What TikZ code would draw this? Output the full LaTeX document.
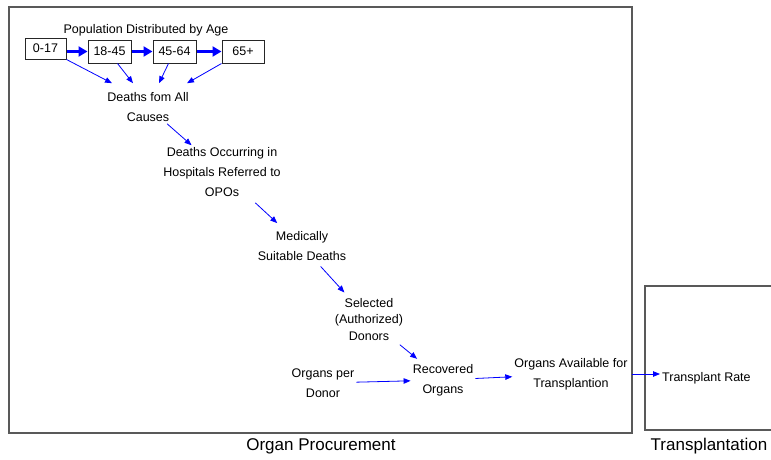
\documentclass[tikz,border=0pt]{standalone}
\usepackage{fontspec}
\setmainfont{Liberation Sans}
\usetikzlibrary{arrows.meta,calc}
\begin{document}
\begin{tikzpicture}[x=1pt,y=-1pt,
  frame/.style={draw=black!65,line width=1.2pt},
  agebox/.style={draw=black!85,line width=1pt,inner sep=0pt,font=\fontsize{12.5}{15}\selectfont},
  lbl/.style={align=center,inner sep=2pt,font=\fontsize{12.5}{20}\selectfont},
  arr/.style={draw=blue,line width=0.8pt,-{Triangle[length=7pt,width=5.5pt]}},
  thickarr/.style={draw=blue,line width=3.5pt,-{Triangle[length=9pt,width=10pt]}},
  grouptitle/.style={inner sep=0pt,font=\fontsize{17}{20}\selectfont}]
\useasboundingbox (0,0) rectangle (771,459);
\clip (0,0) rectangle (771,459);
% group frames
\draw[frame] (9,7) rectangle (632,433);
\draw[frame] (645,286) rectangle (790,430);
\node[grouptitle] (proc) at (321,446) {Organ Procurement};
\node[grouptitle] (trans) at (709,446) {Transplantation};
% population by age
\node[lbl] (pop) at (146,30) {Population Distributed by Age};
\node[agebox,minimum width=41pt,minimum height=21pt] (a0) at (45.5,48.5) {0-17};
\node[agebox,minimum width=43pt,minimum height=23pt] (a1) at (109.5,51.5) {18-45};
\node[agebox,minimum width=43pt,minimum height=23pt] (a2) at (174.5,51.5) {45-64};
\node[agebox,minimum width=42pt,minimum height=23pt] (a3) at (243,51.5) {65+};
\draw[thickarr] (a0.east |- a1) -- (a1.west);
\draw[thickarr] (a1.east) -- (a2.west);
\draw[thickarr] (a2.east) -- (a3.west);
% chain
\node[lbl] (deaths) at (148,107) {Deaths fom All\\Causes};
\node[lbl] (occur) at (222,172) {Deaths Occurring in\\Hospitals Referred to\\OPOs};
\node[lbl] (medic) at (302,246) {Medically\\Suitable Deaths};
\node[lbl,font=\fontsize{12.5}{16.5}\selectfont] (select) at (369,319.5) {Selected\\(Authorized)\\Donors};
\node[lbl] (recov) at (443,380) {Recovered\\Organs};
\node[lbl] (perdonor) at (323,383) {Organs per\\Donor};
\node[lbl] (avail) at (571,374) {Organs Available for\\Transplantion};
\node[lbl,anchor=west] (trate) at (660,378) {Transplant Rate};
% connectors
\draw[arr] (a0.south east) -- ([xshift=-36pt,yshift=7pt]deaths.north);
\draw[arr] ([xshift=8pt]a1.south) -- ([xshift=-15pt,yshift=7pt]deaths.north);
\draw[arr] ([xshift=-6pt]a2.south) -- ([xshift=11pt,yshift=7pt]deaths.north);
\draw[arr] (a3.south west) -- ([xshift=39pt,yshift=7pt]deaths.north);
\draw[arr] (deaths) -- (occur);
\draw[arr,shorten <=6pt,shorten >=9pt] (occur) -- (medic);
\draw[arr,shorten <=5pt,shorten >=5pt] (medic) -- (select);
\draw[arr,shorten <=3pt,shorten >=5pt] (select) -- (recov);
\draw[arr] (perdonor) -- (recov);
\draw[arr] (recov) -- (avail);
\draw[arr,shorten <=2.5pt] (avail.east) -- (avail.east -| trate.west);
\end{tikzpicture}
\end{document}
